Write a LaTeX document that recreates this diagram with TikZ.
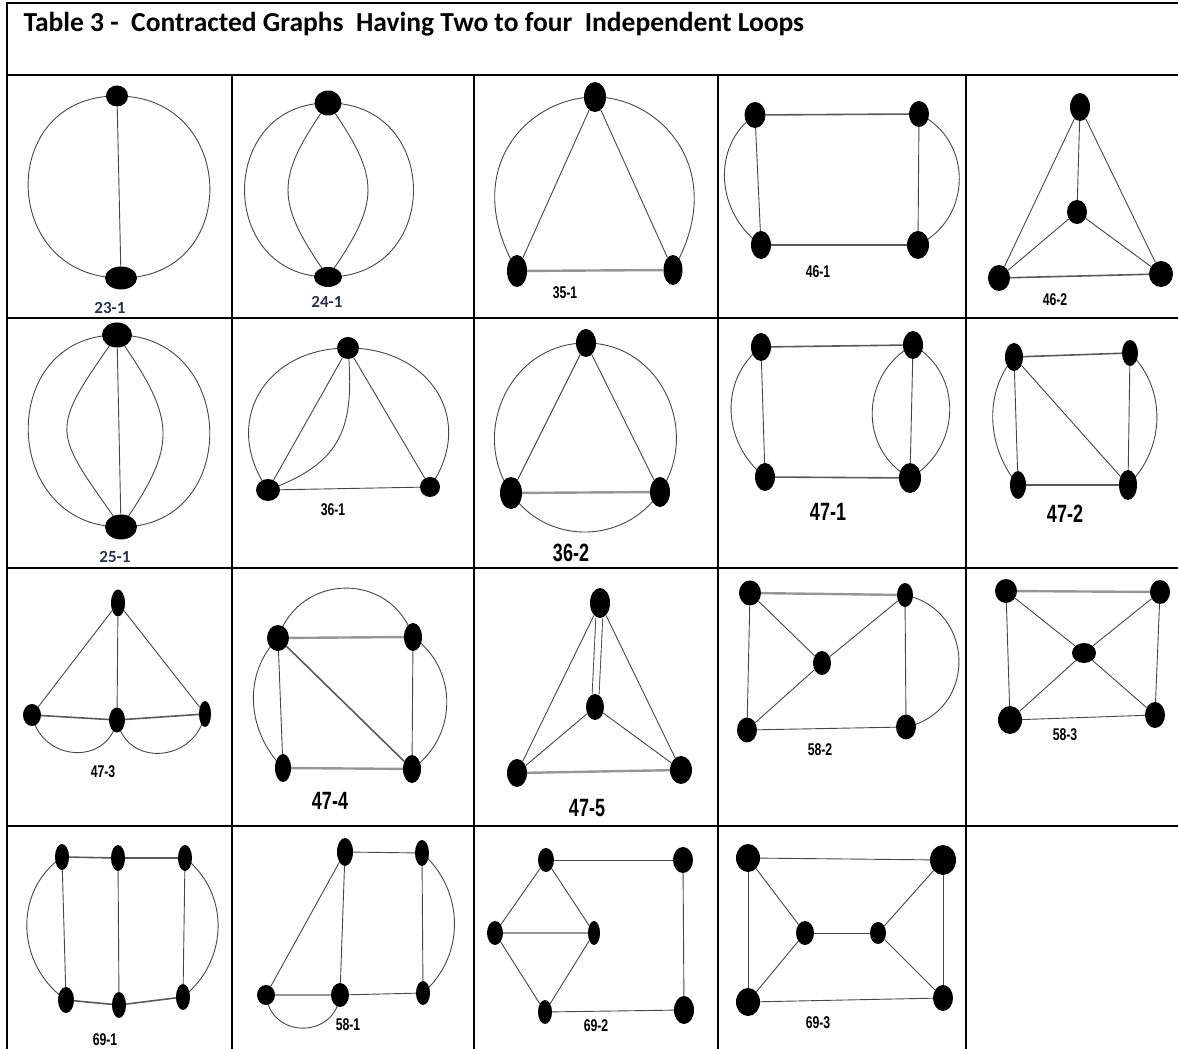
\documentclass[tikz,border=0pt]{standalone}
\usepackage{fontspec}
\setmainfont{Carlito}
\newfontfamily\narrowfont{Liberation Sans}[FakeStretch=0.72]
\usepackage{tikz}
\usetikzlibrary{shapes.geometric,backgrounds}
\definecolor{edgegray}{RGB}{70,70,70}
\definecolor{heavygray}{RGB}{150,150,150}
\definecolor{lblnavy}{RGB}{40,48,78}

\begin{document}
\begin{tikzpicture}[x=1pt, y=1pt,
  vtx/.style={ellipse,fill=black,inner sep=0pt,minimum width=19,minimum height=25},
  edge/.style={draw=edgegray,line width=0.9pt},
  midheavy/.style={draw=black!65,line width=1.6pt},
  heavy/.style={draw=heavygray,line width=2.4pt},
  grid/.style={draw=black,line width=1.8pt},
  lbl/.style={font=\narrowfont\bfseries\fontsize{17}{18}\selectfont},
  biglbl/.style={font=\narrowfont\bfseries\fontsize{25}{26}\selectfont},
  blulbl/.style={font=\bfseries\fontsize{17}{18}\selectfont,text=lblnavy}]
  \useasboundingbox (0,0) rectangle (1178,1049);

  % table frame
  \draw[grid] (1178,1046) -- (7,1046) -- (7,0);
  \foreach \ry in {974,731,481,223}
    \draw[grid] (7,\ry) -- (1178,\ry);
  \foreach \cx in {232,474,718,966}
    \draw[grid] (\cx,974) -- (\cx,0);
  \node[anchor=base west,font=\bfseries\fontsize{27.5}{30}\selectfont] (title) at (20,1017)
    {Table 3 -\ \ Contracted Graphs\ \ Having Two to four\ \ Independent Loops};

  % 23-1
  \node[vtx,minimum width=22,minimum height=21] (a1) at (117,953) {};
  \node[vtx,minimum width=32,minimum height=23] (a2) at (121,771) {};
  \node[blulbl] (la) at (110,741) {23-1};
  % 24-1
  \node[vtx,minimum width=27,minimum height=25] (b1) at (328,946) {};
  \node[vtx,minimum width=28,minimum height=20] (b2) at (328,772) {};
  \node[blulbl] (lb) at (327,747) {24-1};
  % 35-1
  \node[vtx,minimum width=22,minimum height=30] (c1) at (595,952) {};
  \node[vtx,minimum width=20,minimum height=32] (c2) at (517,778) {};
  \node[vtx,minimum width=19,minimum height=30] (c3) at (673,779) {};
  \node[lbl] (lc) at (565,756) {35-1};
  % 46-1
  \node[vtx,minimum width=21,minimum height=26] (d1) at (755,934) {};
  \node[vtx,minimum width=20,minimum height=26] (d2) at (919,935) {};
  \node[vtx,minimum width=20,minimum height=28] (d3) at (761,804) {};
  \node[vtx,minimum width=22,minimum height=28] (d4) at (918,804) {};
  \node[lbl] (ld) at (818,777) {46-1};
  % 46-2
  \node[vtx,minimum width=20,minimum height=28] (e1) at (1080,942) {};
  \node[vtx,minimum width=20,minimum height=24] (e2) at (1077,837) {};
  \node[vtx,minimum width=22,minimum height=26] (e3) at (999,771) {};
  \node[vtx,minimum width=24,minimum height=26] (e4) at (1161,775) {};
  \node[lbl] (le) at (1055,749) {46-2};
  % 25-1
  \node[vtx,minimum width=30,minimum height=25] (f1) at (117,714) {};
  \node[vtx,minimum width=32,minimum height=25] (f2) at (121,522) {};
  \node[blulbl] (lf) at (115,492) {25-1};
  % 36-1
  \node[vtx,minimum width=22,minimum height=22] (g1) at (348,701) {};
  \node[vtx,minimum width=24,minimum height=22] (g2) at (268,559) {};
  \node[vtx,minimum width=20,minimum height=20] (g3) at (430,562) {};
  \node[lbl] (lg) at (333,539) {36-1};
  % 36-2
  \node[vtx,minimum width=20,minimum height=28] (h1) at (586,706) {};
  \node[vtx,minimum width=22,minimum height=32] (h2) at (511,556) {};
  \node[vtx,minimum width=20,minimum height=30] (h3) at (660,557) {};
  \node[biglbl] (lh) at (571,496) {36-2};
  % 47-1
  \node[vtx,minimum width=20,minimum height=28] (i1) at (761,702) {};
  \node[vtx,minimum width=20,minimum height=28] (i2) at (913,704) {};
  \node[vtx,minimum width=20,minimum height=28] (i3) at (765,572) {};
  \node[vtx,minimum width=22,minimum height=30] (i4) at (910,571) {};
  \node[biglbl] (li) at (828,537) {47-1};
  % 47-2
  \node[vtx,minimum width=18,minimum height=28] (j1) at (1014,692) {};
  \node[vtx,minimum width=16,minimum height=26] (j2) at (1130,696) {};
  \node[vtx,minimum width=16,minimum height=28] (j3) at (1018,564) {};
  \node[vtx,minimum width=18,minimum height=30] (j4) at (1128,564) {};
  \node[biglbl] (lj) at (1065,535) {47-2};
  % 47-3
  \node[vtx,minimum width=14,minimum height=27] (k1) at (118,446) {};
  \node[vtx,minimum width=18,minimum height=22] (k2) at (32,334) {};
  \node[vtx,minimum width=16,minimum height=25] (k3) at (117,329) {};
  \node[vtx,minimum width=12,minimum height=26] (k4) at (205,335) {};
  \node[lbl] (lk) at (103,277) {47-3};
  % 47-4
  \node[vtx,minimum width=22,minimum height=26] (m1) at (278,411) {};
  \node[vtx,minimum width=18,minimum height=28] (m2) at (413,412) {};
  \node[vtx,minimum width=16,minimum height=28] (m3) at (283,281) {};
  \node[vtx,minimum width=18,minimum height=28] (m4) at (412,280) {};
  \node[biglbl] (lm) at (330,248) {47-4};
  % 47-5
  \node[vtx,minimum width=20,minimum height=30] (n1) at (600,446) {};
  \node[vtx,minimum width=18,minimum height=26] (n2) at (595,342) {};
  \node[vtx,minimum width=20,minimum height=28] (n3) at (517,276) {};
  \node[vtx,minimum width=22,minimum height=28] (n4) at (681,279) {};
  \node[biglbl] (ln) at (587,241) {47-5};
  % 58-2
  \node[vtx,minimum width=22,minimum height=25] (o1) at (750,456) {};
  \node[vtx,minimum width=16,minimum height=24] (o2) at (905,454) {};
  \node[vtx,minimum width=18,minimum height=24] (o3) at (822,386) {};
  \node[vtx,minimum width=20,minimum height=25] (o4) at (747,319) {};
  \node[vtx,minimum width=20,minimum height=25] (o5) at (906,322) {};
  \node[lbl] (lo) at (820,299) {58-2};
  % 58-3
  \node[vtx,minimum width=22,minimum height=24] (p1) at (1006,458) {};
  \node[vtx,minimum width=20,minimum height=24] (p2) at (1160,457) {};
  \node[vtx,minimum width=24,minimum height=20] (p3) at (1084,396) {};
  \node[vtx,minimum width=24,minimum height=28] (p4) at (1010,329) {};
  \node[vtx,minimum width=20,minimum height=26] (p5) at (1155,334) {};
  \node[lbl] (lp) at (1065,314) {58-3};
  % 69-1
  \node[vtx,minimum width=14,minimum height=26] (q1) at (62,192) {};
  \node[vtx,minimum width=14,minimum height=26] (q2) at (118,191) {};
  \node[vtx,minimum width=14,minimum height=26] (q3) at (185,191) {};
  \node[vtx,minimum width=16,minimum height=26] (q4) at (66,49) {};
  \node[vtx,minimum width=14,minimum height=26] (q5) at (119,44) {};
  \node[vtx,minimum width=14,minimum height=26] (q6) at (183,52) {};
  \node[lbl] (lq) at (105,9) {69-1};
  % 58-1
  \node[vtx,minimum width=16,minimum height=28] (r1) at (345,197) {};
  \node[vtx,minimum width=14,minimum height=26] (r2) at (422,196) {};
  \node[vtx,minimum width=18,minimum height=20] (r3) at (266,54) {};
  \node[vtx,minimum width=18,minimum height=24] (r4) at (340,54) {};
  \node[vtx,minimum width=14,minimum height=24] (r5) at (423,56) {};
  \node[lbl] (lr) at (348,24) {58-1};
  % 69-2
  \node[vtx,minimum width=16,minimum height=24] (s1) at (546,189) {};
  \node[vtx,minimum width=20,minimum height=26] (s2) at (683,189) {};
  \node[vtx,minimum width=16,minimum height=24] (s3) at (495,116) {};
  \node[vtx,minimum width=12,minimum height=24] (s4) at (594,116) {};
  \node[vtx,minimum width=14,minimum height=24] (s5) at (545,37) {};
  \node[vtx,minimum width=20,minimum height=28] (s6) at (684,39) {};
  \node[lbl] (ls) at (596,23) {69-2};
  % 69-3
  \node[vtx,minimum width=24,minimum height=28] (t1) at (748,191) {};
  \node[vtx,minimum width=26,minimum height=30] (t2) at (943,189) {};
  \node[vtx,minimum width=18,minimum height=24] (t3) at (805,116) {};
  \node[vtx,minimum width=16,minimum height=22] (t4) at (878,116) {};
  \node[vtx,minimum width=24,minimum height=28] (t5) at (748,47) {};
  \node[vtx,minimum width=20,minimum height=26] (t6) at (943,51) {};
  \node[lbl] (lt) at (818,26) {69-3};

  \begin{scope}[on background layer]
    % 23-1
    \draw[edge] (a1) -- (a2);
    \draw[edge] (a1.center) to[out=180,in=180,looseness=1.7] (a2.center);
    \draw[edge] (a1.center) to[out=0,in=0,looseness=1.7] (a2.center);
    % 24-1
    \draw[edge] (b1.center) to[out=180,in=180,looseness=1.64] (b2.center);
    \draw[edge] (b1.center) to[out=0,in=0,looseness=1.68] (b2.center);
    \draw[edge] (b1.center) to[out=-125,in=125,looseness=1.37] (b2.center);
    \draw[edge] (b1.center) to[out=-55,in=55,looseness=1.37] (b2.center);
    % 35-1
    \draw[edge] (c1) -- (c2);
    \draw[edge] (c1) -- (c3);
    \draw[heavy] (c2) -- (c3);
    \draw[edge] (c2.center) to[out=120,in=180,out distance=120,in distance=65] (c1.center);
    \draw[edge] (c1.center) to[out=0,in=60,out distance=65,in distance=115] (c3.center);
    % 46-1
    \draw[midheavy] (d1) -- (d2);
    \draw[midheavy] (d3) -- (d4);
    \draw[edge] (d1) -- (d3);
    \draw[edge] (d2) -- (d4);
    \draw[edge] (d1.center) to[out=-145,in=145,looseness=1.07] (d3.center);
    \draw[edge] (d2.center) to[out=-26,in=26,looseness=1.18] (d4.center);
    % 46-2
    \draw[edge] (e1) -- (e3);
    \draw[edge] (e1) -- (e4);
    \draw[edge] (e1) -- (e2);
    \draw[edge] (e2) -- (e3);
    \draw[edge] (e2) -- (e4);
    \draw[midheavy] (e3) -- (e4);
    % 25-1
    \draw[edge] (f1) -- (f2);
    \draw[edge] (f1.center) to[out=180,in=180,looseness=1.61] (f2.center);
    \draw[edge] (f1.center) to[out=0,in=0,looseness=1.61] (f2.center);
    \draw[edge] (f1.center) to[out=-125,in=125,looseness=1.61] (f2.center);
    \draw[edge] (f1.center) to[out=-55,in=55,looseness=1.36] (f2.center);
    % 36-1
    \draw[edge] (g1) -- (g2);
    \draw[edge] (g1) -- (g3);
    \draw[edge] (g2) -- (g3);
    \draw[edge] (g2.center) to[out=125,in=180,looseness=1.3] (g1.center);
    \draw[edge] (g1.center) to[out=0,in=55,looseness=1.3] (g3.center);
    \draw[edge] (g1.center) to[out=-85,in=20,looseness=1.25] (g2.center);
    % 36-2
    \draw[edge] (h1) -- (h2);
    \draw[edge] (h1) -- (h3);
    \draw[heavy] (h2) -- (h3);
    \draw[edge] (h1.center) to[out=180,in=124,looseness=1.14] (h2.center);
    \draw[edge] (h2.center) to[out=-56,in=-124,looseness=1.09] (h3.center);
    \draw[edge] (h3.center) to[out=56,in=0,looseness=1.14] (h1.center);
    % 47-1
    \draw[midheavy] (i1) -- (i2);
    \draw[midheavy] (i3) -- (i4);
    \draw[edge] (i1) -- (i3);
    \draw[edge] (i2) -- (i4);
    \draw[edge] (i1.center) to[out=-142,in=142,looseness=1.06] (i3.center);
    \draw[edge] (i2.center) to[out=-30,in=30,looseness=1.13] (i4.center);
    \draw[edge] (i2.center) to[out=-151,in=151,looseness=1.15] (i4.center);
    % 47-2
    \draw[midheavy] (j1) -- (j2);
    \draw[midheavy] (j3) -- (j4);
    \draw[edge] (j1) -- (j3);
    \draw[edge] (j2) -- (j4);
    \draw[edge] (j1) -- (j4);
    \draw[edge] (j1.center) to[out=-130,in=130,looseness=0.96] (j3.center);
    \draw[edge] (j2.center) to[out=-44,in=44,looseness=1.0] (j4.center);
    % 47-3
    \draw[edge] (k1) -- (k2);
    \draw[edge] (k1) -- (k3);
    \draw[edge] (k1) -- (k4);
    \draw[midheavy] (k2) -- (k3);
    \draw[midheavy] (k3) -- (k4);
    \draw[edge] (k2.center) to[out=-79,in=-101,looseness=1.43] (k3.center);
    \draw[edge] (k3.center) to[out=-79,in=-101,looseness=1.43] (k4.center);
    % 47-4
    \draw[heavy] (m1) -- (m2);
    \draw[heavy] (m3) -- (m4);
    \draw[edge] (m1) -- (m3);
    \draw[edge] (m2) -- (m4);
    \draw[midheavy] (m1) -- (m4);
    \draw[edge] (m1.center) to[out=72,in=108,looseness=1.31] (m2.center);
    \draw[edge] (m1.center) to[out=-135,in=135,looseness=1.0] (m3.center);
    \draw[edge] (m2.center) to[out=-35,in=35,looseness=1.08] (m4.center);
    % 47-5
    \draw[edge] (n1) -- (n3);
    \draw[edge] (n1) -- (n4);
    \draw[edge] (n2) -- (n3);
    \draw[edge] (n2) -- (n4);
    \draw[heavy] (n3) -- (n4);
    \draw[edge,double,double distance=6pt] (n1) -- (n2);
    % 58-2
    \draw[heavy] (o1) -- (o2);
    \draw[edge] (o1) -- (o4);
    \draw[edge] (o4) -- (o5);
    \draw[edge] (o2) -- (o5);
    \draw[edge] (o1) -- (o3);
    \draw[edge] (o3) -- (o2);
    \draw[edge] (o3) -- (o4);
    \draw[edge] (o2.center) to[out=-12,in=12,looseness=1.41] (o5.center);
    % 58-3
    \draw[heavy] (p1) -- (p2);
    \draw[edge] (p1) -- (p4);
    \draw[edge] (p2) -- (p5);
    \draw[edge] (p4) -- (p5);
    \draw[edge] (p1) -- (p3);
    \draw[edge] (p3) -- (p5);
    \draw[edge] (p2) -- (p3);
    \draw[edge] (p3) -- (p4);
    % 69-1
    \draw[midheavy] (q1) -- (q2);
    \draw[midheavy] (q2) -- (q3);
    \draw[midheavy] (q4) -- (q5);
    \draw[midheavy] (q5) -- (q6);
    \draw[edge] (q1) -- (q4);
    \draw[edge] (q2) -- (q5);
    \draw[edge] (q3) -- (q6);
    \draw[edge] (q1.center) to[out=-145,in=145,looseness=1.08] (q4.center);
    \draw[edge] (q3.center) to[out=-38,in=38,looseness=1.06] (q6.center);
    % 58-1
    \draw[edge] (r1) -- (r2);
    \draw[edge] (r1) -- (r4);
    \draw[edge] (r2) -- (r5);
    \draw[heavy] (r3) -- (r4);
    \draw[edge] (r4) -- (r5);
    \draw[edge] (r3) -- (r1);
    \draw[edge] (r3.center) to[out=-84,in=-96,looseness=1.54] (r4.center);
    \draw[edge] (r2.center) to[out=-41,in=41,looseness=1.03] (r5.center);
    % 69-2
    \draw[edge] (s1) -- (s2);
    \draw[edge] (s2) -- (s6);
    \draw[edge] (s5) -- (s6);
    \draw[edge] (s1) -- (s3);
    \draw[edge] (s1) -- (s4);
    \draw[edge] (s3) -- (s5);
    \draw[edge] (s4) -- (s5);
    \draw[heavy] (s3) -- (s4);
    % 69-3
    \draw[edge] (t1) -- (t2);
    \draw[edge] (t1) -- (t5);
    \draw[edge] (t2) -- (t6);
    \draw[edge] (t5) -- (t6);
    \draw[edge] (t1) -- (t3);
    \draw[edge] (t3) -- (t5);
    \draw[edge] (t2) -- (t4);
    \draw[edge] (t4) -- (t6);
    \draw[edge] (t3) -- (t4);
  \end{scope}
\end{tikzpicture}
\end{document}
